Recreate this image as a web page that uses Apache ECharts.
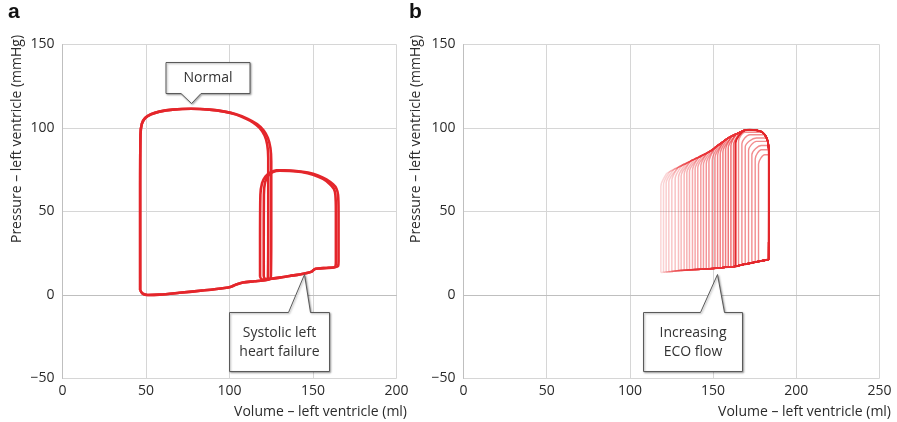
<!DOCTYPE html>
<html>
<head>
<meta charset="utf-8">
<style>
  html, body { margin: 0; padding: 0; background: #fff; }
  #chart { width: 897px; height: 422px; }
</style>
<script src="https://cdn.jsdelivr.net/npm/echarts@6/dist/echarts.min.js"></script>
</head>
<body>
<div id="chart"></div>
<script>
// ---------- Panel a: pressure-volume loops (volume ml, pressure mmHg) ----------
const normalCycleA = [
  [46.5, 3], [48, 0.8], [51, 0], [58, 0.2], [70, 1.3], [85, 2.8], [97, 4.2], [101, 5],
  [104, 6.3], [108, 7.5], [115, 8.2], [122, 9], [123, 10.5], [123.2, 40], [123.2, 82],
  [122.6, 90], [121, 95.5], [118, 100], [114, 103.3], [110, 105.5], [104, 108], [97, 109.8],
  [88, 111], [77, 111.5], [66, 111], [58, 109.8], [53, 108.2], [49.5, 106], [47.5, 102.5],
  [46.7, 96], [46.5, 60], [46.5, 3]
];
const normalCycleB = [
  [46.5, 3], [48, 0.8], [51, 0], [58, 0.2], [70, 1.3], [85, 2.8], [97, 4.2], [101, 5],
  [104, 6.3], [108, 7.5], [115, 8.2], [122, 9], [124.2, 9.6], [124.8, 11.5], [125, 40],
  [125, 80], [124.5, 88], [123, 94], [120.5, 98.5], [116.5, 102.3], [111, 105.5], [104, 108.2],
  [97, 109.8], [88, 111], [77, 111.5], [66, 111], [58, 109.8], [53, 108.2], [49.5, 106],
  [47.5, 102.5], [46.7, 96], [46.5, 60], [46.5, 3]
];
const failureCycleA = [
  [118.3, 11], [119.5, 9.3], [124, 9.6], [130, 10.4], [136, 11.4], [142, 12.3], [147, 13.3],
  [149.5, 14.2], [151, 15.5], [153, 15.9], [158, 16.2], [163, 16.6], [165, 17.3], [165.3, 20],
  [165.3, 50], [165, 60], [164, 63.8], [162, 66.3], [158, 69.3], [153, 71.6], [147, 73.3],
  [140, 74.3], [133, 74.7], [128, 74.6], [124.5, 73.4], [121.5, 71], [119.5, 67], [118.5, 60],
  [118.3, 30], [118.3, 11]
];
const failureCycleB = [
  [120.5, 11], [121.5, 9.5], [124, 9.6], [130, 10.4], [136, 11.4], [142, 12.3], [147, 13.3],
  [149.5, 14.2], [151, 15.5], [153, 15.9], [158, 16.2], [162.5, 16.5], [163.5, 17.5], [163.7, 20],
  [163.7, 50], [163.4, 60], [162.5, 63.5], [160, 66.5], [156, 69.5], [150, 72], [143, 73.6],
  [136, 74.3], [130, 74.4], [126, 73.6], [123.2, 71.5], [121.3, 67.5], [120.6, 60],
  [120.5, 30], [120.5, 11]
];

// ---------- Panel b: loops under increasing ECO flow ----------
// shared filling (bottom) and ejection (top) traces
const ecoBottom = [
  [118.6, 13.5], [125, 14.1], [130, 14.6], [135, 15], [140, 15.3], [145, 15.5], [150, 15.8],
  [155, 16.3], [160, 16.8], [163, 17.1], [168, 18.2], [173, 19.2], [178, 20.2], [182.5, 21.1],
  [183.4, 21.4]
];
const ecoTop = [
  [183.5, 85], [183.2, 90], [182.4, 93.5], [181, 96], [179, 97.8], [176, 98.7], [172, 98.9],
  [169, 98.6], [166.5, 97.6], [164, 96.4], [161.5, 95.3], [159, 93.9], [156.5, 92.2],
  [154, 90.4], [151.5, 88.5], [149, 86.6], [146.5, 85.1], [144, 83.9], [141.5, 82.6],
  [139, 81.4], [136.5, 80.2], [134, 78.9], [131.5, 77.7], [129, 76.4], [126.5, 75.2],
  [124, 73.9], [122, 72.7], [120.5, 71.2]
];
// end-systolic volume, pressure where the top-left corner meets the left side,
// and pressure at the bottom-left corner
const ecoEsv = [118.6, 120.2, 121.8, 123.4, 125.2, 127.2, 129.2, 130.8, 132.6, 134.2, 135.8,
  137.6, 139.2, 140.8, 142.6, 144.2, 145.9, 147.5, 149.5, 151.1, 152.7, 154.3, 155.9, 157.5,
  159.1, 160.7, 162.3, 163.5];
const ecoEsp = [65, 66, 67, 67.6, 68.5, 69.5, 70.5, 71.3, 72.2, 73, 73.8, 74.7, 75.5, 76.3,
  77.2, 78, 78.8, 79.6, 80.9, 82.1, 83.3, 84.5, 85.7, 86.9, 88.1, 89.3, 90, 91];
const ecoLow = [13.5, 13.6, 13.8, 14, 14.1, 14.3, 14.5, 14.7, 14.8, 15, 15.1, 15.2, 15.3, 15.3,
  15.4, 15.5, 15.6, 15.7, 15.8, 15.9, 16.1, 16.2, 16.4, 16.5, 16.7, 16.8, 17, 17.1];
// narrow loops with reduced ejection
const narrowEsv = [165.3, 167.3, 169.3, 171.3, 173.3, 175.3, 177.3];
const narrowPeak = [97.5, 96, 94, 92, 89.5, 87, 84];
const narrowEsp = [92, 90.5, 88.5, 86.5, 84, 81.5, 78.5];
const narrowLow = [17.6, 18, 18.5, 18.9, 19.3, 19.7, 20.1];

// axis ticks
const xTicksA = { min: 0, max: 200, step: 50 };
const xTicksB = { min: 0, max: 250, step: 50 };
const yTicks = { min: -50, max: 150, step: 50 };

// one closed loop: filling along the bottom trace, ejection along the top trace
function ecoLoop(esv, esp, low, cap) {
  const pts = [[esv, low]];
  ecoBottom.forEach(p => { if (p[0] > esv + 1.5) pts.push(p); });
  ecoTop.forEach(p => {
    if (p[0] > esv + 3.2) pts.push(cap != null ? [p[0], Math.min(p[1], cap)] : p);
  });
  pts.push([esv, esp]);
  pts.push([esv, low]);
  return pts;
}

const FONT = '"Open Sans", "Noto Sans", sans-serif';
const RED = '#e4262b';

function lineSeries(data, grid, color, width) {
  return {
    type: 'line', xAxisIndex: grid, yAxisIndex: grid, data: data,
    showSymbol: false, symbol: 'none', smooth: 0.3, silent: true, animation: false,
    lineStyle: { color: color, width: width }, z: 3
  };
}

const series = [
  lineSeries(normalCycleA, 0, RED, 2.6),
  lineSeries(normalCycleB, 0, RED, 2.6),
  lineSeries(failureCycleA, 0, RED, 2.6),
  lineSeries(failureCycleB, 0, RED, 2.6)
];
const nWide = ecoEsv.length - 1;
for (let i = 0; i < nWide; i++) {
  const op = 0.2 + 0.5 * i / (nWide - 1);
  series.push(lineSeries(ecoLoop(ecoEsv[i], ecoEsp[i], ecoLow[i]), 1,
    'rgba(234,50,55,' + op.toFixed(3) + ')', 1.5));
}
for (let i = 0; i < narrowEsv.length; i++) {
  series.push(lineSeries(ecoLoop(narrowEsv[i], narrowEsp[i], narrowLow[i], narrowPeak[i]), 1,
    'rgba(232,45,50,0.55)', 1.4));
}
series.push(lineSeries(ecoLoop(ecoEsv[nWide], ecoEsp[nWide], ecoLow[nWide]), 1, '#e3262b', 2));

function xAxis(grid, t) {
  return {
    type: 'value', gridIndex: grid, min: t.min, max: t.max, interval: t.step,
    axisLine: { show: true, lineStyle: { color: '#bfbfbf', width: 1 } },
    axisTick: { show: false },
    splitLine: { show: true, lineStyle: { color: '#d6d6d6', width: 1 } },
    axisLabel: { color: '#2b2b2b', fontSize: 14, fontFamily: FONT, margin: 6 }
  };
}
function yAxis(grid) {
  return {
    type: 'value', gridIndex: grid, min: yTicks.min, max: yTicks.max, interval: yTicks.step,
    axisLine: { show: true, lineStyle: { color: '#bfbfbf', width: 1 } },
    axisTick: { show: false },
    splitLine: { show: true, lineStyle: { color: '#d6d6d6', width: 1 } },
    axisLabel: {
      color: '#2b2b2b', fontSize: 14, fontFamily: FONT, margin: 8,
      formatter: v => String(v).replace('-', '\u2212')
    }
  };
}

function callout(points, lines, cx, cy) {
  return [
    {
      type: 'polygon', z: 10,
      shape: { points: points },
      style: {
        fill: '#fff', stroke: '#5a5a5a', lineWidth: 1,
        shadowBlur: 2, shadowOffsetX: 1, shadowOffsetY: 1, shadowColor: 'rgba(0,0,0,0.35)'
      }
    },
    {
      type: 'text', z: 11, x: cx, y: cy,
      style: {
        text: lines.join('\n'), fill: '#333', font: '14px ' + FONT,
        textAlign: 'center', textVerticalAlign: 'middle', lineHeight: 19
      }
    }
  ];
}

function label(text, x, y, opts) {
  return {
    type: 'text', z: 12, x: x, y: y,
    style: Object.assign({ text: text, fill: '#2b2b2b', font: '14px ' + FONT }, opts || {})
  };
}

const graphic = [].concat(
  [
    label('a', 8, 2, { font: 'bold 21px "Liberation Sans", Arial, sans-serif', fill: '#111' }),
    label('b', 409, 2, { font: 'bold 21px "Liberation Sans", Arial, sans-serif', fill: '#111' }),
    Object.assign(label('Pressure \u2013 left ventricle (mmHg)', 17, 139,
      { textAlign: 'center', textVerticalAlign: 'middle' }), { rotation: Math.PI / 2 }),
    Object.assign(label('Pressure \u2013 left ventricle (mmHg)', 416, 139,
      { textAlign: 'center', textVerticalAlign: 'middle' }), { rotation: Math.PI / 2 }),
    label('Volume \u2013 left ventricle (ml)', 407, 412,
      { textAlign: 'right', textVerticalAlign: 'middle' }),
    label('Volume \u2013 left ventricle (ml)', 891, 412,
      { textAlign: 'right', textVerticalAlign: 'middle' })
  ],
  callout([[166, 62.5], [250, 62.5], [250, 93.5], [201, 93.5], [191.5, 103.5], [181, 93.5], [166, 93.5]],
    ['Normal'], 208, 78),
  callout([[229.5, 312.5], [288.5, 312.5], [304.5, 274.5], [310.5, 312.5], [329.5, 312.5],
    [329.5, 371.5], [229.5, 371.5]], ['Systolic left', 'heart failure'], 279.5, 342.5),
  callout([[643.5, 312.5], [700.5, 312.5], [717.5, 274.5], [724.5, 312.5], [742.5, 312.5],
    [742.5, 371.5], [643.5, 371.5]], ['Increasing', 'ECO flow'], 693, 342.5)
);

const chart = echarts.init(document.getElementById('chart'), null, { renderer: 'canvas' });
chart.setOption({
  animation: false,
  backgroundColor: '#fff',
  grid: [
    { left: 62.5, top: 44.5, width: 334, height: 334 },
    { left: 463.5, top: 44.5, width: 416, height: 334 }
  ],
  xAxis: [xAxis(0, xTicksA), xAxis(1, xTicksB)],
  yAxis: [yAxis(0), yAxis(1)],
  series: series,
  graphic: graphic
});
</script>
</body>
</html>
